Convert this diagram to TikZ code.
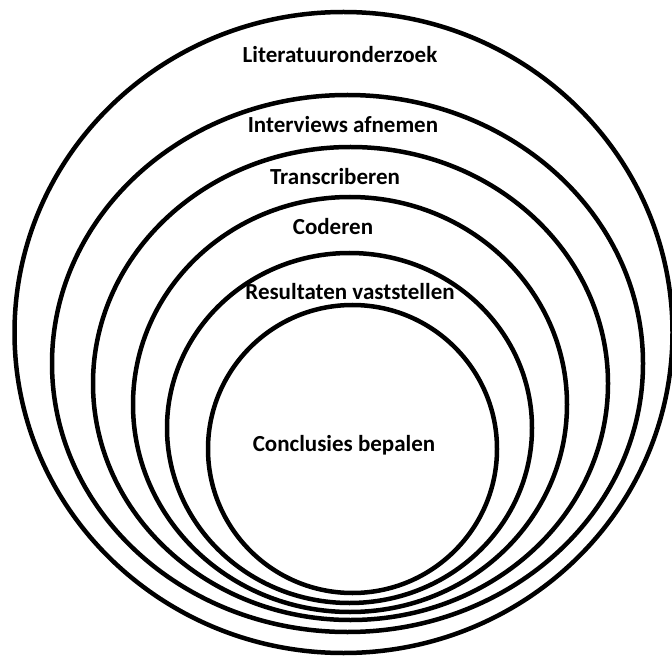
\documentclass[tikz,border=0pt]{standalone}
\usepackage{fontspec}
\setmainfont{Carlito}
\begin{document}
\begin{tikzpicture}[x=1pt,y=1pt,
  ring/.style={draw=black,line width=4.5pt},
  lbl/.style={anchor=base,inner sep=0pt,font=\fontsize{23}{26}\selectfont\bfseries}]
\useasboundingbox[fill=white] (0,0) rectangle (672,657);
\draw[ring] (343.5,324.5) ellipse [x radius=329pt,y radius=320.5pt];
\draw[ring] (347.5,293.5) ellipse [x radius=295.5pt,y radius=268.5pt];
\draw[ring] (350.5,273.5) ellipse [x radius=257.5pt,y radius=236.5pt];
\draw[ring] (350,252.5) ellipse [x radius=217pt,y radius=207.5pt];
\draw[ring] (349.5,229) ellipse [x radius=182.5pt,y radius=175pt];
\draw[ring] (352.5,208) ellipse [x radius=144.5pt,y radius=144pt];
\node[lbl] (t1) at (340,594) {Literatuuronderzoek};
\node[lbl] (t2) at (343,524) {Interviews afnemen};
\node[lbl] (t3) at (335,472) {Transcriberen};
\node[lbl] (t4) at (333,422) {Coderen};
\node[lbl] (t5) at (350,357) {Resultaten vaststellen};
\node[lbl] (t6) at (344,206) {Conclusies bepalen};
\end{tikzpicture}
\end{document}
